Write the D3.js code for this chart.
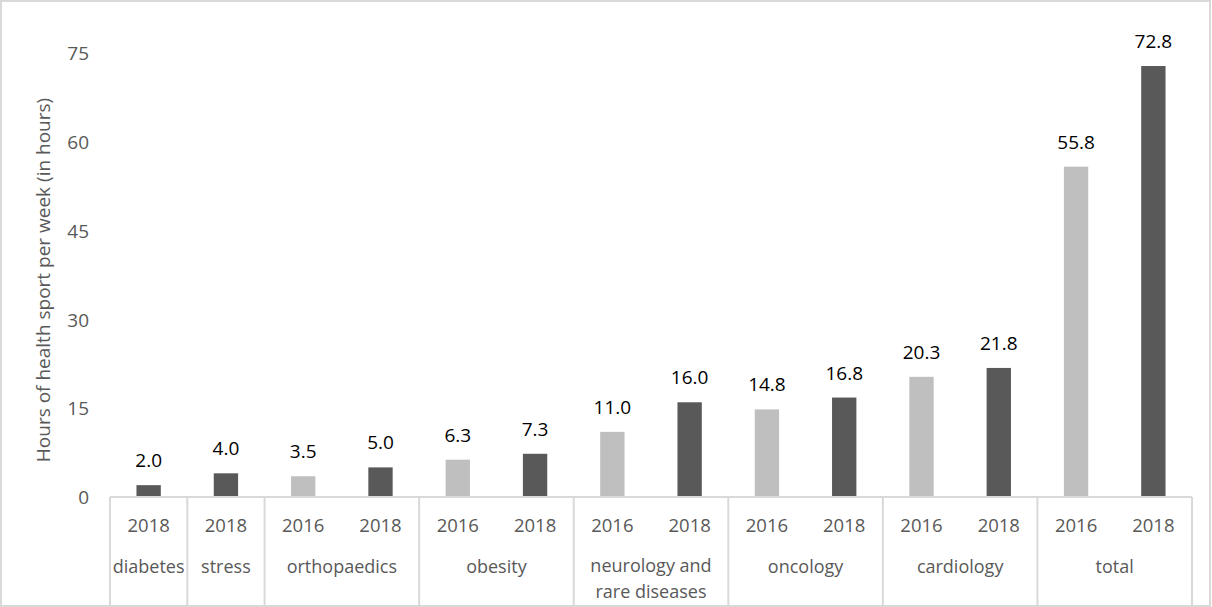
<!DOCTYPE html>
<html>
<head>
<meta charset="utf-8">
<script src="https://cdn.jsdelivr.net/npm/d3@7"></script>
<style>
  html, body { margin: 0; padding: 0; background: #fff; }
  svg { display: block; }
</style>
</head>
<body>
<svg id="chart" width="1212" height="607"></svg>
<script>
// ---- data ----
const groups = ["diabetes", "stress", "orthopaedics", "obesity", "neurology and\nrare diseases", "oncology", "cardiology", "total"];
const groupYears = [["2018"], ["2018"], ["2016", "2018"], ["2016", "2018"], ["2016", "2018"], ["2016", "2018"], ["2016", "2018"], ["2016", "2018"]];
const groupValues = [[2.0], [4.0], [3.5, 5.0], [6.3, 7.3], [11.0, 16.0], [14.8, 16.8], [20.3, 21.8], [55.8, 72.8]];
const yTicks = [0, 15, 30, 45, 60, 75];
const yTitle = "Hours of health sport per week (in hours)";
const yearColors = { "2016": "#bfbfbf", "2018": "#595959" };

(function () {
// flatten into bars
const bars = [];
groups.forEach((g, gi) => {
  groupYears[gi].forEach((yr, j) => {
    bars.push({ group: g, gi, year: yr, value: groupValues[gi][j], idx: bars.length });
  });
});

const svg = d3.select("#chart");
const W = 1212;
const pLeft = 110, pRight = 1192, pTop = 53, base = 497, bottomEdge = 605;

// outer border
svg.append("rect").attr("x", 1).attr("y", 1).attr("width", W - 3).attr("height", bottomEdge)
  .attr("fill", "none").attr("stroke", "#d9d9d9").attr("stroke-width", 2);

const x = d3.scaleBand().domain(bars.map(d => d.idx)).range([pLeft, pRight]).padding(0);
const barW = x.bandwidth() * 0.315;
const y = d3.scaleLinear().domain([0, 75]).range([base, pTop]);

// y axis tick labels (no line)
const yAxis = d3.axisLeft(y).tickValues(yTicks).tickSize(0).tickPadding(0);
const yg = svg.append("g").attr("transform", `translate(89,0)`).call(yAxis);
yg.select(".domain").remove();
yg.selectAll("text").attr("font-family", "'Open Sans', sans-serif").attr("font-size", 19)
  .attr("fill", "#595959").attr("dy", "0.35em");

// y title
svg.append("text")
  .attr("transform", `translate(50,280) rotate(-90)`)
  .attr("text-anchor", "middle")
  .attr("font-family", "'Open Sans', sans-serif").attr("font-size", 19)
  .attr("fill", "#595959")
  .text(yTitle);

// bars
svg.append("g").selectAll("rect").data(bars).join("rect")
  .attr("x", d => x(d.idx) + (x.bandwidth() - barW) / 2)
  .attr("width", barW)
  .attr("y", d => y(d.value))
  .attr("height", d => y(0) - y(d.value))
  .attr("fill", d => yearColors[d.year]);

// data labels
svg.append("g").selectAll("text").data(bars).join("text")
  .attr("x", d => x(d.idx) + x.bandwidth() / 2)
  .attr("y", d => y(d.value) - 18)
  .attr("text-anchor", "middle")
  .attr("font-family", "'Open Sans', sans-serif").attr("font-size", 19)
  .attr("fill", "#000")
  .text(d => d.value.toFixed(1));

// x axis line
svg.append("line").attr("x1", pLeft).attr("x2", pRight).attr("y1", base).attr("y2", base)
  .attr("stroke", "#d9d9d9").attr("stroke-width", 2);

// year labels
svg.append("g").selectAll("text").data(bars).join("text")
  .attr("x", d => x(d.idx) + x.bandwidth() / 2)
  .attr("y", 532)
  .attr("text-anchor", "middle")
  .attr("font-family", "'Open Sans', sans-serif").attr("font-size", 18.5)
  .attr("fill", "#595959")
  .text(d => d.year);

// group separators and labels
const groupSpans = groups.map((g, gi) => {
  const b = bars.filter(d => d.gi === gi);
  return { g, x0: x(b[0].idx), x1: x(b[b.length - 1].idx) + x.bandwidth() };
});
const seps = [pLeft].concat(groupSpans.map(s => s.x1));
svg.append("g").selectAll("line").data(seps).join("line")
  .attr("x1", d => d).attr("x2", d => d)
  .attr("y1", base).attr("y2", bottomEdge)
  .attr("stroke", "#d9d9d9").attr("stroke-width", 2);

const gl = svg.append("g").selectAll("text").data(groupSpans).join("text")
  .attr("x", d => (d.x0 + d.x1) / 2)
  .attr("y", d => d.g.includes("\n") ? 572 : 573)
  .attr("text-anchor", "middle")
  .attr("font-family", "'Open Sans', sans-serif").attr("font-size", 18)
  .attr("fill", "#595959");
gl.each(function(d) {
  const lines = d.g.split("\n");
  const t = d3.select(this);
  lines.forEach((ln, i) => {
    t.append("tspan").attr("x", (d.x0 + d.x1) / 2).attr("dy", i === 0 ? 0 : 26).text(ln);
  });
});
})();
</script>
</body>
</html>
